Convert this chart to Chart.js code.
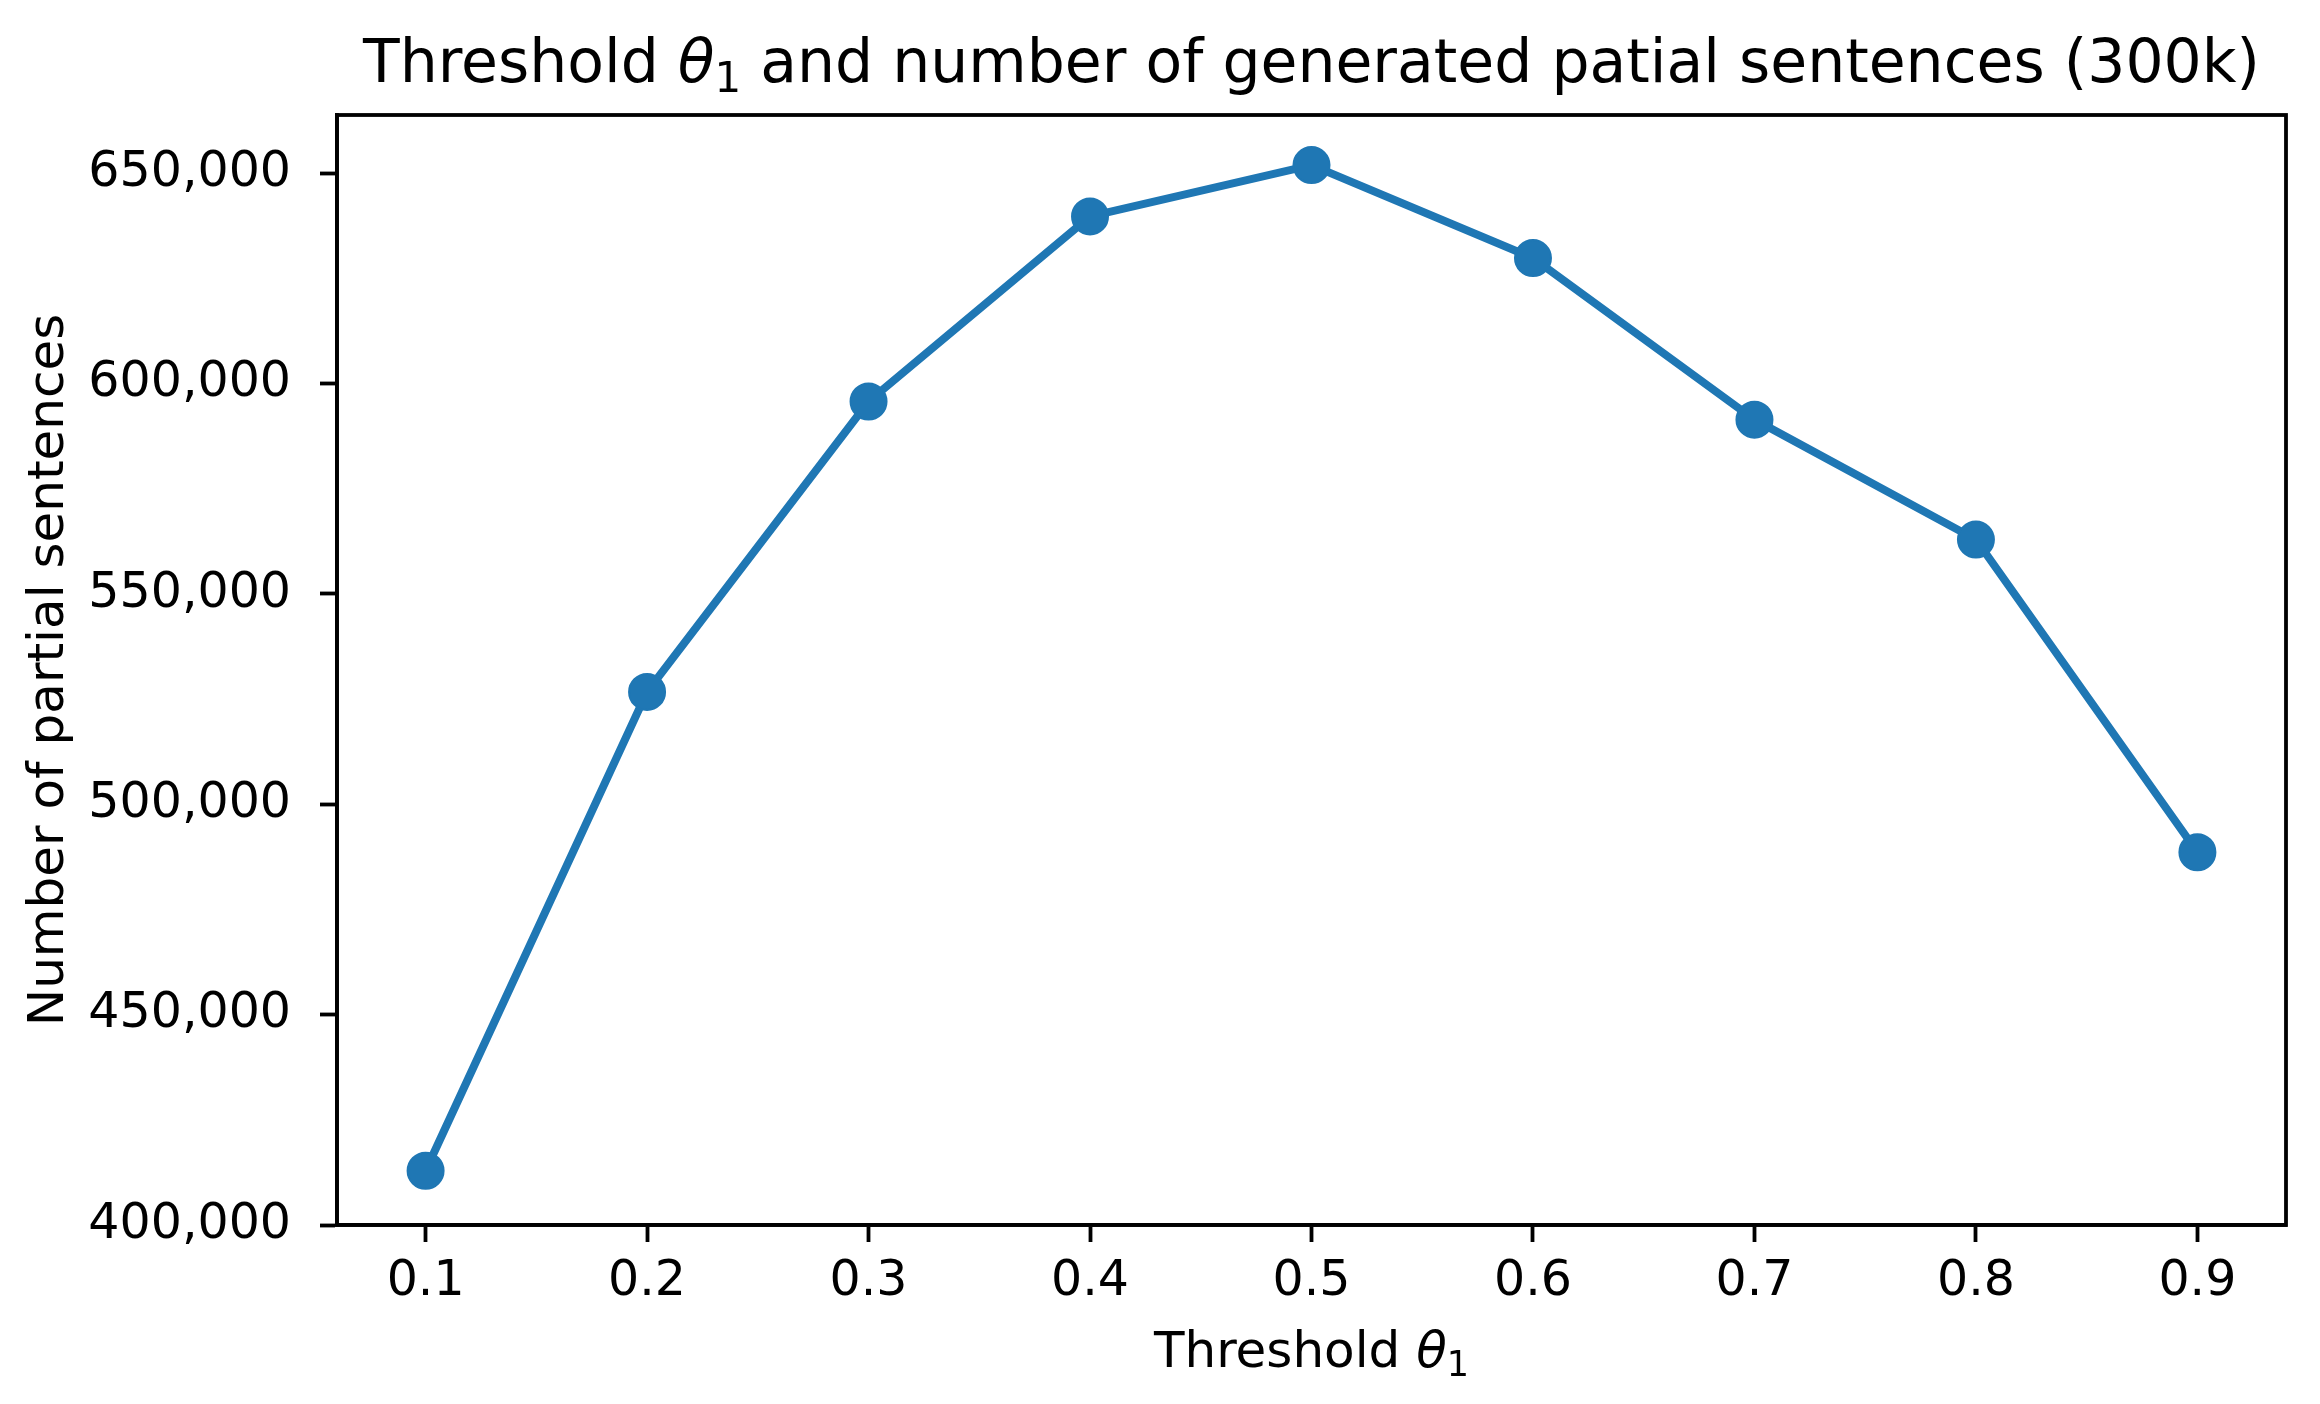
<!DOCTYPE html>
<html>
<head>
<meta charset="utf-8">
<script src="https://cdn.jsdelivr.net/npm/chart.js@4.4.0/dist/chart.umd.min.js"></script>
<style>
body { margin: 0; background: #ffffff; }
canvas { display: block; }
</style>
</head>
<body>
<canvas id="grafic" width="2320" height="1404"></canvas>
<script>
// data
const thresholds = [0.1, 0.2, 0.3, 0.4, 0.5, 0.6, 0.7, 0.8, 0.9];
const partialSentences = [412900, 526700, 595700, 639700, 651900, 629800, 591400, 562900, 488600];
const xTicks = [0.1, 0.2, 0.3, 0.4, 0.5, 0.6, 0.7, 0.8, 0.9];
const yTicks = [400000, 450000, 500000, 550000, 600000, 650000];

const FONT = "'DejaVu Sans', 'Liberation Sans', sans-serif";
const BLUE = "#1f77b4";

// text with an italic theta and a subscript, like matplotlib mathtext
function draw_parts(ctx, parts, size) {
    const fontOf = (kind) => {
        if (kind === "i") return "oblique " + size + "px " + FONT;
        if (kind === "sub") return Math.round(size * 0.7) + "px " + FONT;
        return size + "px " + FONT;
    };
    let total = 0;
    parts.forEach(p => {
        ctx.font = fontOf(p[1]);
        total += ctx.measureText(p[0]).width;
    });
    let x = -total / 2;
    parts.forEach(p => {
        ctx.font = fontOf(p[1]);
        const dy = p[1] === "sub" ? size * 0.17 : 0;
        ctx.fillText(p[0], x, dy);
        x += ctx.measureText(p[0]).width;
    });
}

const labelsPlugin = {
    id: "labels",
    afterDraw(chart) {
        const ctx = chart.ctx;
        const area = chart.chartArea;
        const cx = (area.left + area.right) / 2;
        ctx.save();
        ctx.fillStyle = "#000000";
        ctx.textAlign = "left";
        ctx.textBaseline = "alphabetic";

        // box around the axes
        ctx.strokeStyle = "#000000";
        ctx.lineWidth = 3.8;
        ctx.strokeRect(area.left, area.top, area.right - area.left, area.bottom - area.top);

        // title
        ctx.save();
        ctx.translate(cx, 82);
        draw_parts(ctx, [["Threshold ", "n"], ["θ", "i"], ["1", "sub"], [" and number of generated patial sentences (300k)", "n"]], 60);
        ctx.restore();

        // x axis label
        ctx.save();
        ctx.translate(cx, 1367);
        draw_parts(ctx, [["Threshold ", "n"], ["θ", "i"], ["1", "sub"]], 50);
        ctx.restore();

        // y axis label
        ctx.save();
        ctx.translate(63, (area.top + area.bottom) / 2);
        ctx.rotate(-Math.PI / 2);
        draw_parts(ctx, [["Number of partial sentences", "n"]], 50);
        ctx.restore();

        ctx.restore();
    }
};

function create_grafic() {
    const ctx = document.getElementById("grafic");
    const points = thresholds.map((t, i) => ({x: t, y: partialSentences[i]}));

    const data = {
        datasets: [{
            data: points,
            borderColor: BLUE,
            backgroundColor: BLUE,
            borderWidth: 8,
            pointRadius: 18,
            pointBorderWidth: 2,
            pointBackgroundColor: BLUE,
            pointBorderColor: BLUE,
            tension: 0,
            clip: false
        }]
    };

    const config = {
        type: "line",
        data: data,
        options: {
            responsive: false,
            animation: false,
            devicePixelRatio: 1,
            layout: {padding: {top: 115, right: 34, left: 0, bottom: 0}},
            plugins: {
                legend: {display: false},
                title: {display: false},
                tooltip: {enabled: false}
            },
            scales: {
                x: {
                    type: "linear",
                    min: 0.06,
                    max: 0.94,
                    afterBuildTicks: (scale) => { scale.ticks = xTicks.map(v => ({value: v})); },
                    afterFit: (scale) => { scale.height = 179; },
                    grid: {display: true, drawOnChartArea: false, drawTicks: true, tickLength: 17, tickWidth: 3.8, tickColor: "#000000"},
                    border: {display: true, color: "#000000", width: 3.8},
                    ticks: {
                        color: "#000000",
                        padding: 11,
                        maxRotation: 0,
                        autoSkip: false,
                        font: {family: FONT, size: 49},
                        callback: (v) => v.toFixed(1)
                    }
                },
                y: {
                    type: "linear",
                    min: 400000,
                    max: 663800,
                    afterBuildTicks: (scale) => { scale.ticks = yTicks.map(v => ({value: v})); },
                    afterFit: (scale) => { scale.width = 337; },
                    grid: {display: true, drawOnChartArea: false, drawTicks: true, tickLength: 17, tickWidth: 3.8, tickColor: "#000000"},
                    border: {display: true, color: "#000000", width: 3.8},
                    ticks: {
                        color: "#000000",
                        padding: 29,
                        autoSkip: false,
                        font: {family: FONT, size: 49},
                        callback: (v) => v.toLocaleString("en-US")
                    }
                }
            }
        },
        plugins: [labelsPlugin]
    };

    const grafica = new Chart(ctx, config);
}

create_grafic();
</script>
</body>
</html>
